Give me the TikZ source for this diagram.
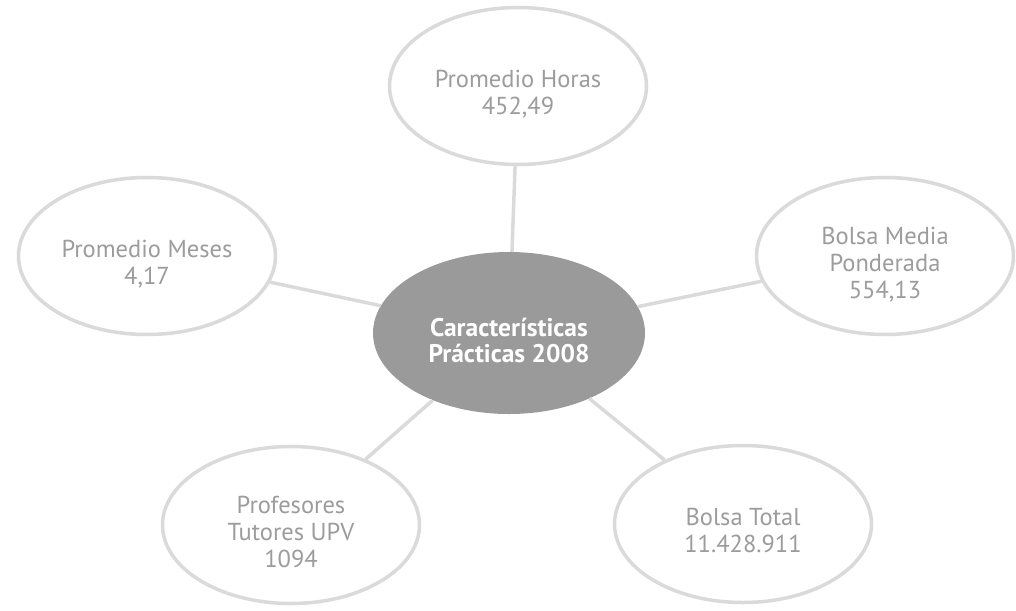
\documentclass[tikz,border=0pt]{standalone}
\usepackage{fontspec}
\setmainfont{PT Sans}
\usetikzlibrary{shapes.geometric}
\definecolor{ringgray}{HTML}{DADADB}
\definecolor{textgray}{HTML}{9C9C9C}
\definecolor{hubgray}{HTML}{9A9A9B}
\newcommand\leaftext[1]{\begin{tabular}{@{}c@{}}\rule{0pt}{39pt}#1\end{tabular}}
\newcommand\hubtext[1]{\begin{tabular}{@{}c@{}}\rule{0pt}{40pt}#1\end{tabular}}
\tikzset{
  leaf/.style={ellipse, draw=ringgray, line width=3.5pt, fill=white, text=textgray,
    inner sep=0pt, minimum width=257pt, minimum height=157pt,
    font=\fontsize{24.5}{27}\selectfont},
  hub/.style={ellipse, fill=hubgray, text=white, inner sep=0pt,
    minimum width=272pt, minimum height=162pt,
    font=\fontsize{25.5}{25}\selectfont\bfseries},
  link/.style={draw=ringgray, line width=3.5pt}
}
\begin{document}
\begin{tikzpicture}[x=1pt,y=-1pt]
\useasboundingbox (0,0) rectangle (1016,610);
\node[hub] (hub) at (509,333) {\hubtext{Características\\Prácticas 2008}};
\node[leaf] (top) at (518,86) {\leaftext{Promedio Horas\\452,49}};
\node[leaf] (left) at (147,256) {\leaftext{Promedio Meses\\4,17}};
\node[leaf] (right) at (885,256) {\leaftext{Bolsa Media\\Ponderada\\554,13}};
\node[leaf] (bl) at (291,525) {\leaftext{Profesores\\Tutores UPV\\1094}};
\node[leaf] (br) at (743,524) {\leaftext{Bolsa Total\\11.428.911}};
\draw[link] (top) -- (hub);
\draw[link] (left) -- (hub);
\draw[link] (right) -- (hub);
\draw[link] (bl) -- (hub);
\draw[link] (br) -- (hub);
\end{tikzpicture}
\end{document}
